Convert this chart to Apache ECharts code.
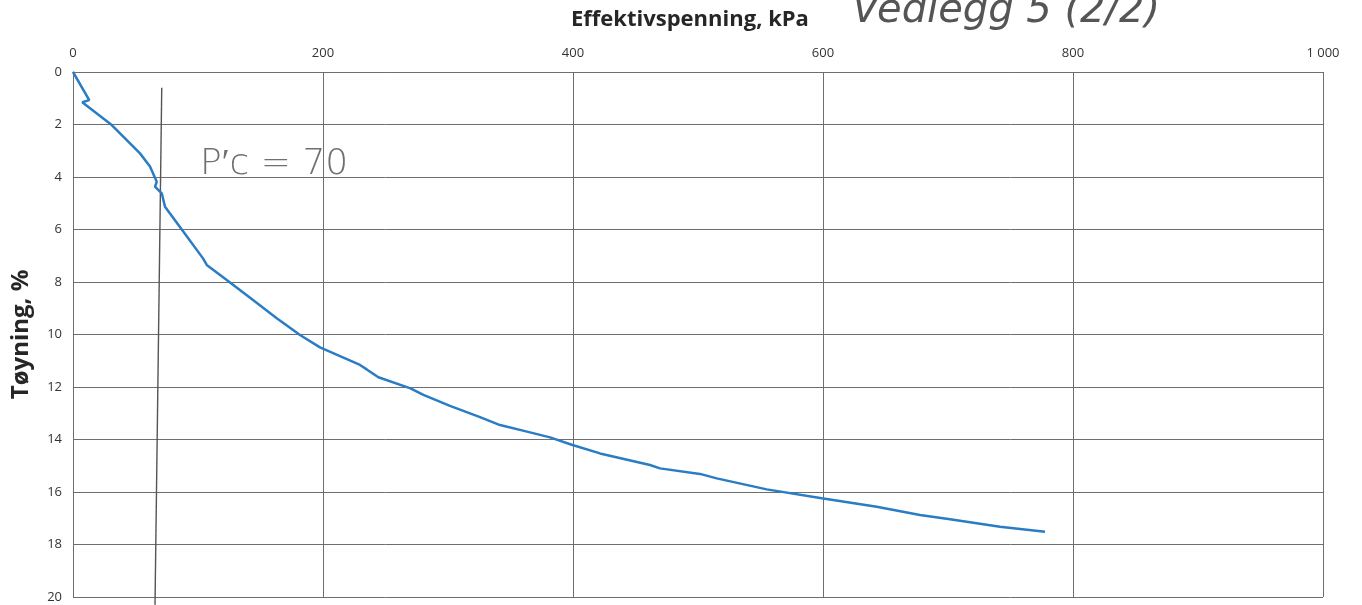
<!DOCTYPE html>
<html>
<head>
<meta charset="utf-8">
<title>Effektivspenning - Tøyning</title>
<script src="https://cdn.jsdelivr.net/npm/echarts@6/dist/echarts.min.js"></script>
<style>
  html, body { margin: 0; padding: 0; background: #ffffff; }
  #chart { width: 1362px; height: 605px; }
</style>
</head>
<body>
<div id="chart"></div>
<script>
// Effective stress (kPa) and strain (%) from the oedometer test
const stress = [0, 13, 7.4, 31, 53.6, 61.6, 67, 65.6, 71, 73.6, 88.2, 104, 107, 123, 144, 163, 181.6, 197.6, 229.6, 235, 244.3, 270, 280.3, 301.6, 325.6, 341.6, 361.6, 381.6, 399, 421.6, 441.6, 461.6, 469.6, 501.6, 515, 555, 599, 643, 677.6, 701.6, 741.6, 777.6];
const strain = [0, 1.07, 1.15, 2.02, 3.1, 3.6, 4.18, 4.37, 4.62, 5.13, 6.08, 7.1, 7.35, 7.92, 8.69, 9.38, 10.02, 10.49, 11.16, 11.33, 11.63, 12.05, 12.3, 12.72, 13.15, 13.45, 13.68, 13.92, 14.2, 14.53, 14.75, 14.97, 15.1, 15.31, 15.48, 15.9, 16.24, 16.56, 16.88, 17.04, 17.32, 17.51];

// Preconsolidation stress line (kPa, %) drawn by hand on the sheet
const pcStress = [71, 65.6];
const pcStrain = [0.6, 20.3];
const pcLabel = "P\u2032c = 70";
const sheetNote = "Vedlegg 5 (2/2)";

const xTicks = { min: 0, max: 1000, step: 200 };
const yTicks = { min: 0, max: 20, step: 2 };

const gridColor = '#6e6e6e';
const inkColor = '#555555';

const chart = echarts.init(document.getElementById('chart'), null, { renderer: 'canvas' });

chart.setOption({
  backgroundColor: '#ffffff',
  animation: false,
  title: {
    text: 'Effektivspenning, kPa',
    left: 566,
    top: 4,
    textStyle: { fontFamily: 'Open Sans', fontWeight: 'bold', fontSize: 22, color: '#262626' }
  },
  grid: { left: 73, right: 39, top: 72, bottom: 8, containLabel: false },
  xAxis: {
    type: 'value',
    position: 'top',
    min: xTicks.min, max: xTicks.max, interval: xTicks.step,
    axisLine: { show: true, lineStyle: { color: gridColor, width: 1 } },
    axisTick: { show: false },
    axisLabel: {
      margin: 12,
      fontFamily: 'Open Sans', fontSize: 13, color: '#333333',
      formatter: v => v >= 1000 ? String(v).replace(/\B(?=(\d{3})+(?!\d))/g, ' ') : String(v)
    },
    splitLine: { show: true, lineStyle: { color: gridColor, width: 1 } }
  },
  yAxis: {
    type: 'value',
    inverse: true,
    min: yTicks.min, max: yTicks.max, interval: yTicks.step,
    name: 'Tøyning, %',
    nameLocation: 'middle',
    nameGap: 40,
    nameRotate: 90,
    nameTextStyle: { fontFamily: 'Open Sans', fontWeight: 'bold', fontSize: 24, color: '#262626' },
    axisLine: { show: true, lineStyle: { color: gridColor, width: 1 } },
    axisTick: { show: false },
    axisLabel: { margin: 11, fontFamily: 'Open Sans', fontSize: 13, color: '#333333' },
    splitLine: { show: true, lineStyle: { color: gridColor, width: 1 } }
  },
  series: [
    {
      type: 'line',
      data: stress.map((s, i) => [s, strain[i]]),
      showSymbol: false,
      smooth: false,
      z: 3,
      lineStyle: { color: '#2a7cc4', width: 2.5 },
      emphasis: { disabled: true }
    },
    {
      // hand-drawn preconsolidation line
      type: 'line',
      data: pcStress.map((s, i) => [s, pcStrain[i]]),
      showSymbol: false,
      clip: false,
      z: 2,
      lineStyle: { color: inkColor, width: 1.4 },
      emphasis: { disabled: true }
    }
  ],
  graphic: [
    {
      type: 'text',
      left: 200, top: 147,
      style: {
        text: pcLabel,
        font: '300 36px "DejaVu Sans"',
        fill: '#707070'
      }
    },
    {
      type: 'text',
      left: 852, top: -8,
      style: {
        text: sheetNote,
        font: 'italic 300 40px "DejaVu Sans"',
        fill: inkColor
      }
    }
  ]
});
</script>
</body>
</html>
